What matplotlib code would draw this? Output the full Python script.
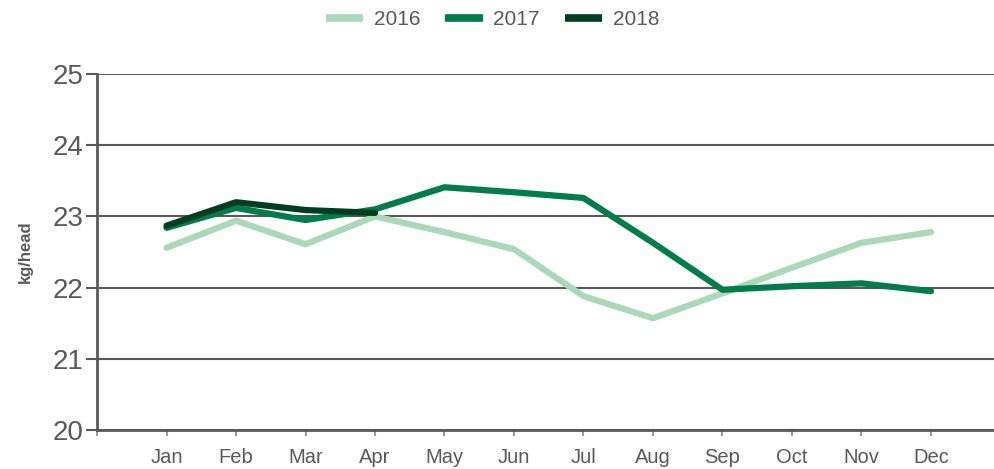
import matplotlib
matplotlib.use('Agg')
import matplotlib.pyplot as plt

months = ['Jan', 'Feb', 'Mar', 'Apr', 'May', 'Jun', 'Jul', 'Aug', 'Sep', 'Oct', 'Nov', 'Dec']
y2016 = [22.56, 22.94, 22.61, 23.00, 22.78, 22.54, 21.88, 21.57, 21.92, 22.28, 22.63, 22.78]
y2017 = [22.84, 23.12, 22.95, 23.10, 23.41, 23.34, 23.26, 22.63, 21.97, 22.02, 22.06, 21.95]
y2018 = [22.87, 23.20, 23.09, 23.05]

plt.rcParams['font.family'] = ['Liberation Sans', 'DejaVu Sans']
grey = '#595959'

fig = plt.figure(figsize=(9.95, 4.69), dpi=100)
ax = fig.add_axes([0.0975, 0.0832, 0.908, 0.7588])

x = list(range(1, 13))
ax.plot(x, y2016, color='#a9d9b8', lw=4.5, solid_capstyle='round', label='2016')
ax.plot(x, y2017, color='#007d4b', lw=4.5, solid_capstyle='round', label='2017')
ax.plot(x[:len(y2018)], y2018, color='#003d21', lw=4.5, solid_capstyle='round', label='2018')

ax.set_xlim(0, 13)
ax.set_ylim(20, 25)
ax.set_yticks([20, 21, 22, 23, 24, 25])
ax.set_xticks(range(0, 13))
ax.set_xticklabels([''] + months)
ax.grid(axis='y', color=grey, lw=1.5)
ax.set_axisbelow(True)

for s in ['top', 'right']:
    ax.spines[s].set_visible(False)
for s in ['left', 'bottom']:
    ax.spines[s].set_color(grey)
    ax.spines[s].set_linewidth(2)

ax.tick_params(axis='y', length=8, width=1.5, color=grey, labelcolor=grey, labelsize=20, pad=2)
ax.tick_params(axis='x', length=4, width=1.5, color='#999999', labelcolor=grey, labelsize=14.5, pad=9)
ax.set_ylabel('kg/head', fontsize=12, fontweight='bold', color=grey, labelpad=14)

leg = fig.legend(loc='upper center', bbox_to_anchor=(0.495, 1.018), ncol=3, frameon=False,
                 fontsize=15, handlelength=1.8, handletextpad=0.5, columnspacing=1.2,
                 labelcolor=grey)
for h in leg.get_lines():
    h.set_linewidth(5.5)
    h.set_solid_capstyle('butt')

fig.savefig('out.png', dpi=100)
